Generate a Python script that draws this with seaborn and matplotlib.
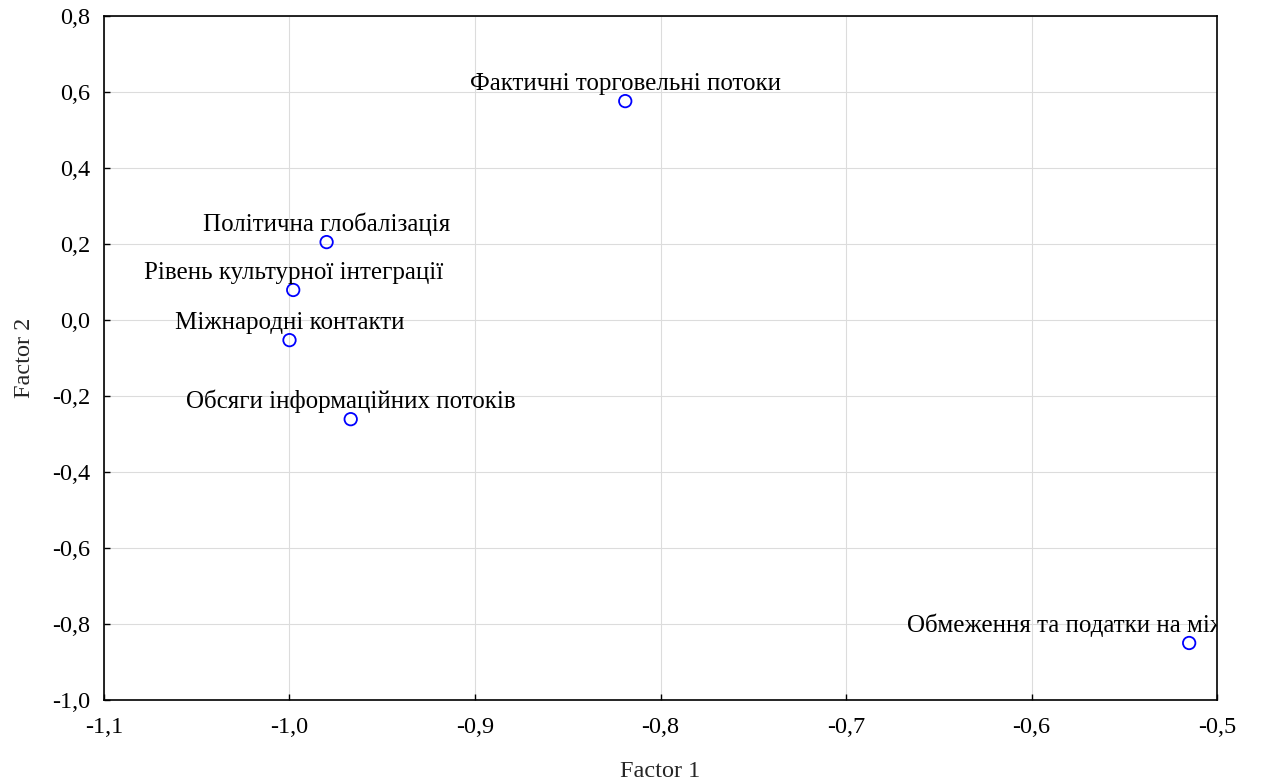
import matplotlib
matplotlib.use("Agg")
import matplotlib.pyplot as plt
import seaborn as sns
import pandas as pd
from matplotlib.ticker import FuncFormatter, MultipleLocator

labels = [
    "Фактичні торговельні потоки",
    "Політична глобалізація",
    "Рівень культурної інтеграції",
    "Міжнародні контакти",
    "Обсяги інформаційних потоків",
    "Обмеження та податки на міжнародні торгові потоки",
]
factor1 = [-0.819, -0.980, -0.998, -1.000, -0.967, -0.515]
factor2 = [0.576, 0.205, 0.079, -0.053, -0.261, -0.850]

df = pd.DataFrame({"Factor 1": factor1, "Factor 2": factor2, "label": labels})

sns.set_theme(style="white")
plt.rcParams["font.family"] = ["Liberation Serif", "DejaVu Serif"]

fig = plt.figure(figsize=(12.64, 7.82), dpi=100)
ax = fig.add_axes([104 / 1264, 1 - 700 / 782, (1217 - 104) / 1264, (700 - 16) / 782])

sns.scatterplot(data=df, x="Factor 1", y="Factor 2", ax=ax, marker="o", s=80,
                facecolor="none", edgecolor="#0000ff", linewidth=1.3, zorder=3)

for x, y, t in zip(factor1, factor2, labels):
    ax.annotate(t, (x, y), xytext=(0, 4.5), textcoords="offset points",
                ha="center", va="bottom", fontsize=18, color="black",
                annotation_clip=False, clip_on=True)

ax.set_xlim(-1.1, -0.5)
ax.set_ylim(-1.0, 0.8)
ax.xaxis.set_major_locator(MultipleLocator(0.1))
ax.yaxis.set_major_locator(MultipleLocator(0.2))
fmt = FuncFormatter(lambda v, p: f"{v:.1f}".replace(".", ",").replace("-0,0", "0,0"))
ax.xaxis.set_major_formatter(fmt)
ax.yaxis.set_major_formatter(fmt)
ax.grid(True, color="#dcdcdc", linewidth=0.8)
ax.tick_params(direction="in", length=4, width=1, labelsize=17.5, colors="black",
               bottom=True, left=True)
ax.tick_params(axis="x", pad=12)
ax.tick_params(axis="y", pad=10)
for sp in ax.spines.values():
    sp.set_color("black")
    sp.set_linewidth(1.2)
ax.set_xlabel("Factor 1", fontsize=17.5, labelpad=17)
ax.set_ylabel("Factor 2", fontsize=17.5, labelpad=12)

fig.savefig("out.png", dpi=100)
